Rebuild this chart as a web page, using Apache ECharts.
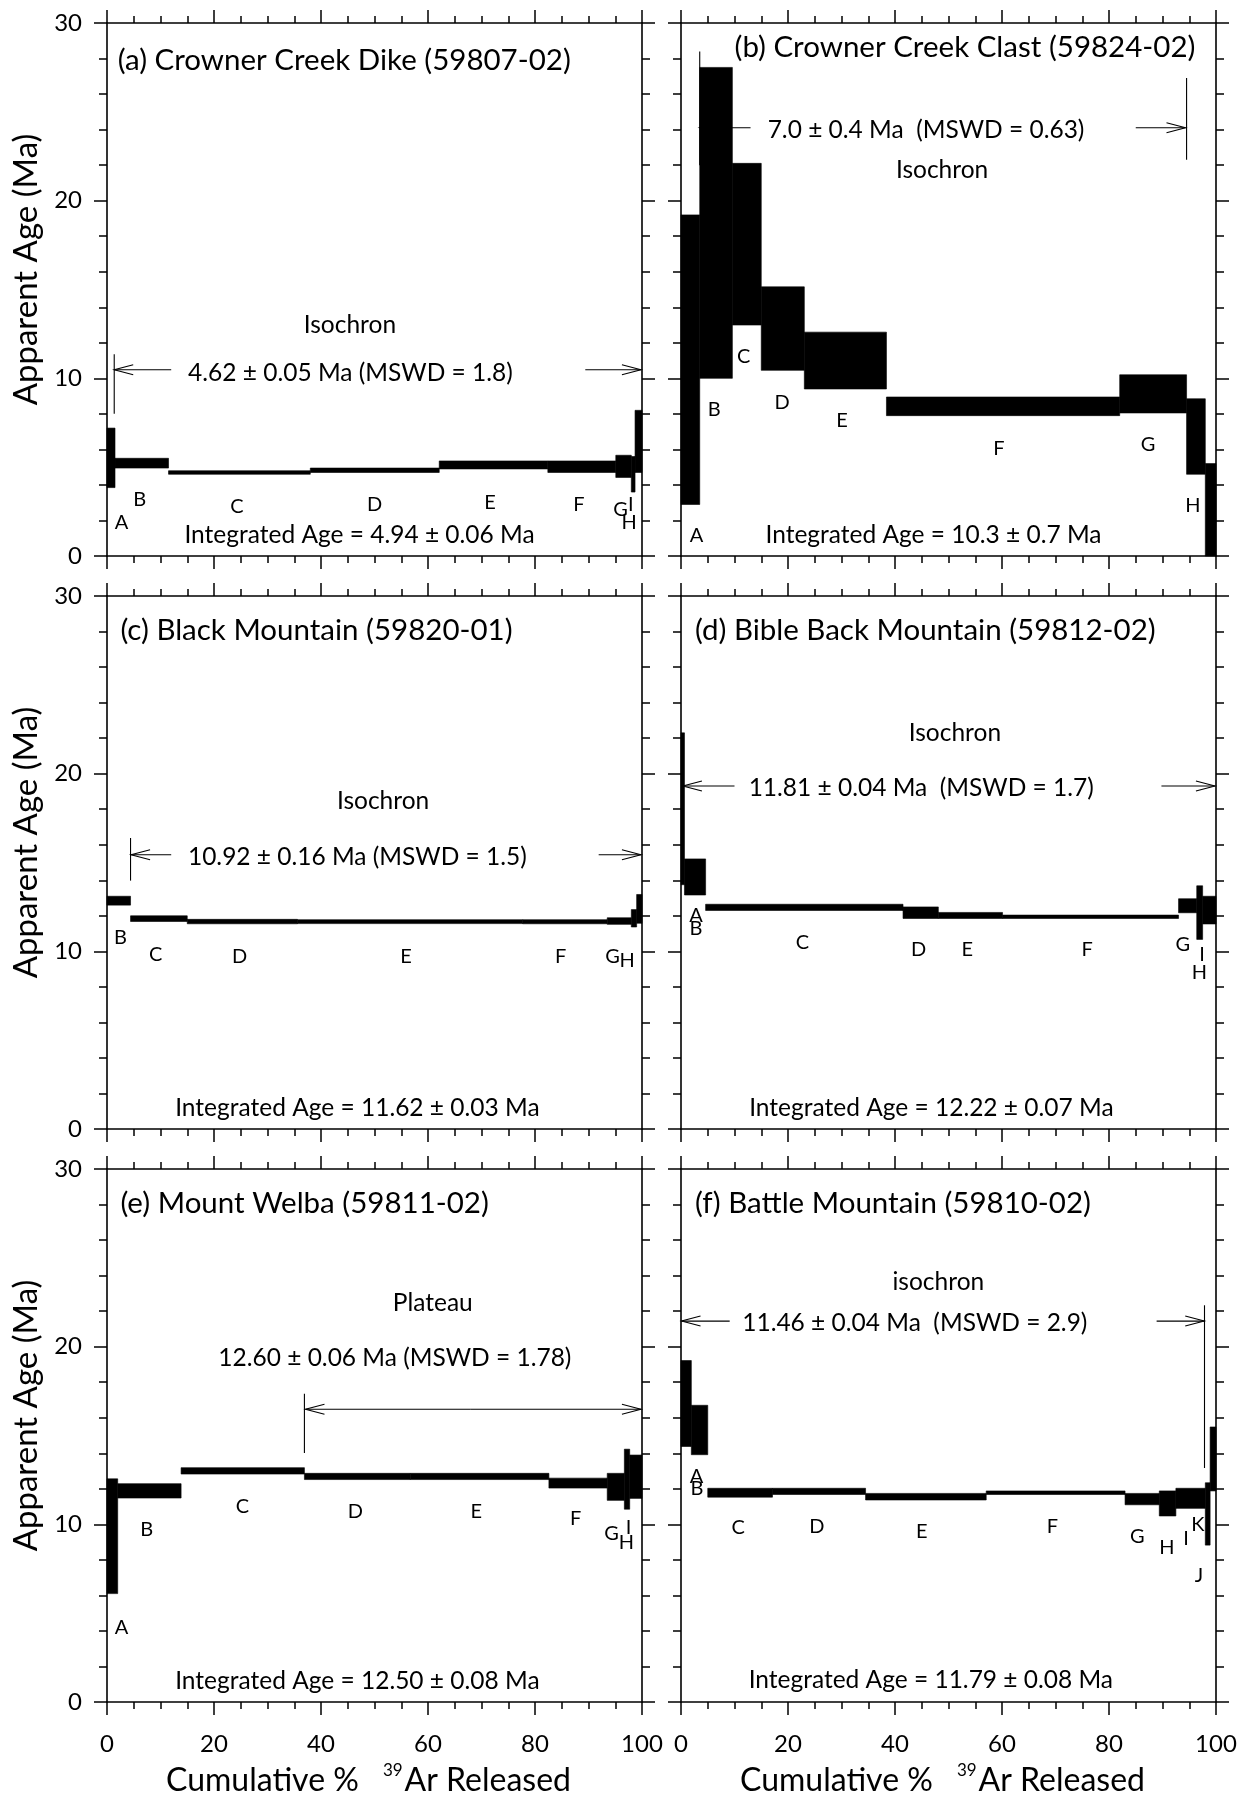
<!DOCTYPE html>
<html>
<head>
<meta charset="utf-8">
<script src="https://cdn.jsdelivr.net/npm/echarts@6/dist/echarts.min.js"></script>
<style>
  html, body { margin: 0; padding: 0; background: #fff; }
  #chart { width: 1239px; height: 1804px; }
</style>
</head>
<body>
<div id="chart"></div>
<script>
// ---------------------------------------------------------------------------
// 40Ar/39Ar step-heating age spectra.
// For each sample: cumulative % 39Ar boundaries of the steps, and the lower /
// upper bound of each step's apparent age (Ma).
// ---------------------------------------------------------------------------

// (a) Crowner Creek Dike (59807-02)
const edgesA = [0, 1.5, 11.5, 38.0, 62.1, 82.4, 95.1, 98.0, 98.7, 100];
const lowA   = [3.85, 4.95, 4.6, 4.7, 4.9, 4.7, 4.42, 3.6, 4.7];
const highA  = [7.2, 5.5, 4.8, 4.95, 5.35, 5.35, 5.67, 5.6, 8.2];

// (b) Crowner Creek Clast (59824-02)
const edgesB = [0, 3.5, 9.6, 15.0, 23.05, 38.4, 82.0, 94.5, 98.0, 100];
const lowB   = [2.9, 10.0, 13.0, 10.45, 9.4, 7.9, 8.05, 4.6, 0];
const highB  = [19.2, 27.5, 22.1, 15.15, 12.6, 8.95, 10.2, 8.85, 5.2];

// (c) Black Mountain (59820-01)
const edgesC = [0, 4.4, 15.0, 35.6, 77.7, 93.5, 98.0, 99.0, 100];
const lowC   = [12.6, 11.68, 11.55, 11.56, 11.55, 11.52, 11.37, 11.58];
const highC  = [13.1, 12.0, 11.8, 11.78, 11.78, 11.89, 12.35, 13.2];

// (d) Bible Back Mountain (59812-02)
const edgesD = [0, 0.65, 4.6, 41.5, 48.1, 60.1, 93.0, 96.4, 97.5, 100];
const lowD   = [13.75, 13.17, 12.3, 11.85, 11.85, 11.85, 12.17, 10.67, 11.54];
const highD  = [22.3, 15.2, 12.65, 12.5, 12.19, 12.04, 12.96, 13.69, 13.1];

// (e) Mount Welba (59811-02)
const edgesE = [0, 2.0, 13.85, 36.9, 56.7, 82.6, 93.5, 96.7, 97.7, 100];
const lowE   = [6.1, 11.48, 12.83, 12.52, 12.52, 12.04, 11.35, 10.85, 11.46];
const highE  = [12.56, 12.29, 13.19, 12.87, 12.87, 12.6, 12.87, 14.23, 13.9];

// (f) Battle Mountain (59810-02)
const edgesF = [0, 1.93, 5.0, 17.1, 34.5, 57.05, 83.0, 89.4, 92.5, 98.0, 98.9, 100];
const lowF   = [14.38, 13.92, 11.53, 11.68, 11.37, 11.68, 11.1, 10.47, 10.9, 8.83, 11.88];
const highF  = [19.22, 16.7, 12.03, 12.03, 11.74, 11.88, 11.74, 11.88, 12.03, 12.34, 15.48];

// Axis ticks
const xTicks = [0, 20, 40, 60, 80, 100];
const yTicks = [0, 10, 20, 30];

// ---------------------------------------------------------------------------
// Annotations (text, age-range arrows) placed in data coordinates.
// ---------------------------------------------------------------------------
const panels = [
  {
    edges: edgesA, low: lowA, high: highA,
    letters: [['A', 2.7, 1.9], ['B', 6.1, 3.2], ['C', 24.3, 2.8], ['D', 50, 2.9], ['E', 71.6, 3.0],
              ['F', 88.2, 2.9], ['G', 96.0, 2.6], ['I', 97.9, 2.9], ['H', 97.6, 1.9]],
    title: ['(a) Crowner Creek Dike (59807-02)', 2.0, 27.9],
    notes: [['Isochron', 45.4, 13.0], ['4.62 \u00b1 0.05 Ma (MSWD = 1.8)', 45.5, 10.27],
            ['Integrated Age = 4.94 \u00b1 0.06 Ma', 47.2, 1.15]],
    arrows: [[12.0, 1.35, 10.48], [89.4, 99.8, 10.48]],
    bars: [[1.35, 11.35, 8.0]]
  },
  {
    edges: edgesB, low: lowB, high: highB,
    letters: [['A', 2.9, 1.15], ['B', 6.2, 8.24], ['C', 11.7, 11.2], ['D', 18.9, 8.66], ['E', 30.1, 7.6],
              ['F', 59.4, 6.05], ['G', 87.3, 6.26], ['H', 95.7, 2.82]],
    title: ['(b) Crowner Creek Clast (59824-02)', 10.0, 28.6],
    notes: [['7.0 \u00b1 0.4 Ma  (MSWD = 0.63)', 45.8, 24.0], ['Isochron', 48.8, 21.74],
            ['Integrated Age = 10.3 \u00b1 0.7 Ma', 47.2, 1.15]],
    arrows: [[13.0, 3.5, 24.1], [85.0, 94.3, 24.1]],
    bars: [[3.5, 28.4, 22], [94.5, 26.9, 22.3]]
  },
  {
    edges: edgesC, low: lowC, high: highC,
    letters: [['B', 2.5, 10.75], ['C', 9.1, 9.8], ['D', 24.8, 9.7], ['E', 55.9, 9.7], ['F', 84.8, 9.7],
              ['G', 94.5, 9.7], ['H', 97.2, 9.5]],
    title: ['(c) Black Mountain (59820-01)', 2.5, 28.06],
    notes: [['Isochron', 51.6, 18.46], ['10.92 \u00b1 0.16 Ma (MSWD = 1.5)', 46.8, 15.33],
            ['Integrated Age = 11.62 \u00b1 0.03 Ma', 46.8, 1.15]],
    arrows: [[12.0, 4.5, 15.44], [91.9, 99.8, 15.44]],
    bars: [[4.4, 16.38, 13.98]]
  },
  {
    edges: edgesD, low: lowD, high: highD,
    letters: [['A', 2.8, 12.0], ['B', 2.8, 11.3], ['C', 22.7, 10.5], ['D', 44.4, 10.1], ['E', 53.5, 10.1],
              ['F', 75.9, 10.1], ['G', 93.8, 10.4], ['I', 97.4, 9.8], ['H', 96.9, 8.8]],
    title: ['(d) Bible Back Mountain (59812-02)', 2.6, 28.06],
    notes: [['Isochron', 51.2, 22.29], ['11.81 \u00b1 0.04 Ma  (MSWD = 1.7)', 44.9, 19.17],
            ['Integrated Age = 12.22 \u00b1 0.07 Ma', 46.8, 1.19]],
    arrows: [[10.0, 0.36, 19.31], [89.8, 99.8, 19.31]],
    bars: []
  },
  {
    edges: edgesE, low: lowE, high: highE,
    letters: [['A', 2.7, 4.2], ['B', 7.4, 9.7], ['C', 25.3, 11.0], ['D', 46.4, 10.7], ['E', 69.0, 10.7],
              ['F', 87.6, 10.3], ['G', 94.3, 9.5], ['I', 97.5, 9.8], ['H', 97.1, 9.0]],
    title: ['(e) Mount Welba (59811-02)', 2.5, 28.08],
    notes: [['Plateau', 60.9, 22.46], ['12.60 \u00b1 0.06 Ma (MSWD = 1.78)', 53.8, 19.33],
            ['Integrated Age = 12.50 \u00b1 0.08 Ma', 46.8, 1.17]],
    arrows: [[68.0, 37.1, 16.48], [68.0, 99.8, 16.48]],
    bars: [[36.9, 17.35, 14.02]]
  },
  {
    edges: edgesF, low: lowF, high: highF,
    letters: [['A', 2.9, 12.7], ['B', 3.0, 12.0], ['C', 10.7, 9.8], ['D', 25.4, 9.9], ['E', 45.0, 9.6],
              ['F', 69.4, 9.9], ['G', 85.3, 9.3], ['H', 90.8, 8.7], ['I', 94.4, 9.2], ['K', 96.6, 10.0],
              ['J', 96.8, 7.1]],
    title: ['(f) Battle Mountain (59810-02)', 2.6, 28.05],
    notes: [['isochron', 48.1, 23.62], ['11.46 \u00b1 0.04 Ma  (MSWD = 2.9)', 43.7, 21.34],
            ['Integrated Age = 11.79 \u00b1 0.08 Ma', 46.7, 1.25]],
    arrows: [[9.1, 0.1, 21.44], [88.9, 97.8, 21.44]],
    bars: [[97.85, 22.33, 13.17]]
  }
];

// ---------------------------------------------------------------------------
// Layout
// ---------------------------------------------------------------------------
const FONT = 'Lato';
const colLeft = [107, 681];
const rowTop = [23, 596, 1169];
const GW = 535, GH = 533;

const grids = [], xAxes = [], yAxes = [], series = [];

function xAxisCfg(gi, position, showLabels) {
  return {
    type: 'value', gridIndex: gi, position: position, min: 0, max: 100, interval: 20,
    axisLine: { show: true, onZero: false, lineStyle: { color: '#000', width: 1.6 } },
    axisTick: { show: true, inside: false, length: 13, lineStyle: { color: '#000', width: 1.5 } },
    minorTick: { show: true, splitNumber: 4, length: 7, lineStyle: { color: '#000', width: 1.5 } },
    axisLabel: {
      show: showLabels, margin: 30, color: '#000', fontFamily: FONT, fontSize: 24,
      formatter: v => (xTicks.indexOf(v) >= 0 ? String(v) : '')
    },
    splitLine: { show: false }, minorSplitLine: { show: false }
  };
}

function yAxisCfg(gi, position, showLabels) {
  return {
    type: 'value', gridIndex: gi, position: position, min: 0, max: 30, interval: 10,
    axisLine: { show: true, onZero: false, lineStyle: { color: '#000', width: 1.6 } },
    axisTick: { show: true, inside: false, length: 13, lineStyle: { color: '#000', width: 1.5 } },
    minorTick: { show: true, splitNumber: 5, length: 8, lineStyle: { color: '#000', width: 1.5 } },
    axisLabel: {
      show: showLabels, margin: 25, color: '#000', fontFamily: FONT, fontSize: 24,
      formatter: v => (yTicks.indexOf(v) >= 0 ? String(v) : '')
    },
    splitLine: { show: false }, minorSplitLine: { show: false }
  };
}

panels.forEach((p, i) => {
  const row = Math.floor(i / 2), col = i % 2;
  grids.push({ left: colLeft[col], top: rowTop[row], width: GW, height: GH, outerBoundsMode: 'none' });
  xAxes.push(xAxisCfg(i, 'bottom', row === 2));
  xAxes.push(xAxisCfg(i, 'top', false));
  yAxes.push(yAxisCfg(i, 'left', col === 0));
  yAxes.push(yAxisCfg(i, 'right', false));
  const xi = 2 * i, yi = 2 * i;

  // Age-range arrows and their end markers (drawn beneath the steps)
  series.push({
    type: 'custom', xAxisIndex: xi, yAxisIndex: yi, z: 1, silent: true,
    data: p.arrows, encode: { x: [0, 1], y: 2 },
    renderItem: (params, api) => {
      const a = api.coord([api.value(0), api.value(2)]);
      const b = api.coord([api.value(1), api.value(2)]);
      const d = b[0] > a[0] ? 1 : -1;
      const st = { stroke: '#000', lineWidth: 1.1, fill: null };
      return {
        type: 'group', children: [
          { type: 'line', shape: { x1: a[0], y1: a[1], x2: b[0], y2: b[1] }, style: st },
          { type: 'polyline', shape: { points: [[b[0] - d * 19, b[1] - 5], [b[0], b[1]], [b[0] - d * 19, b[1] + 5]] }, style: st }
        ]
      };
    }
  });
  series.push({
    type: 'custom', xAxisIndex: xi, yAxisIndex: yi, z: 1, silent: true,
    data: p.bars, encode: { x: 0, y: [1, 2] },
    renderItem: (params, api) => {
      const a = api.coord([api.value(0), api.value(1)]);
      const b = api.coord([api.value(0), api.value(2)]);
      return { type: 'line', shape: { x1: a[0], y1: a[1], x2: b[0], y2: b[1] }, style: { stroke: '#000', lineWidth: 1.1 } };
    }
  });

  // Age spectrum steps
  const steps = p.low.map((lo, k) => [p.edges[k], p.edges[k + 1], lo, p.high[k]]);
  series.push({
    type: 'custom', xAxisIndex: xi, yAxisIndex: yi, z: 3, silent: true,
    data: steps, encode: { x: [0, 1], y: [2, 3] },
    renderItem: (params, api) => {
      const p0 = api.coord([api.value(0), api.value(3)]);
      const p1 = api.coord([api.value(1), api.value(2)]);
      return {
        type: 'rect',
        shape: { x: p0[0], y: p0[1], width: p1[0] - p0[0], height: p1[1] - p0[1] },
        style: { fill: '#000', stroke: '#000', lineWidth: 0.6 }
      };
    }
  });

  // Step letters
  series.push({
    type: 'custom', xAxisIndex: xi, yAxisIndex: yi, z: 4, silent: true,
    data: p.letters.map(l => [l[1], l[2]]), encode: { x: 0, y: 1 },
    renderItem: (params, api) => {
      const c = api.coord([api.value(0), api.value(1)]);
      return {
        type: 'text', x: c[0], y: c[1],
        style: { text: p.letters[params.dataIndex][0], fill: '#000', fontFamily: FONT, fontSize: 20,
                 align: 'center', verticalAlign: 'middle' }
      };
    }
  });

  // Panel title and age notes
  const texts = [[p.title[0], p.title[1], p.title[2], 'left', 29.5]]
    .concat(p.notes.map(n => [n[0], n[1], n[2], 'center', 24.5]));
  series.push({
    type: 'custom', xAxisIndex: xi, yAxisIndex: yi, z: 4, silent: true,
    data: texts.map(t => [t[1], t[2]]), encode: { x: 0, y: 1 },
    renderItem: (params, api) => {
      const t = texts[params.dataIndex];
      const c = api.coord([api.value(0), api.value(1)]);
      return {
        type: 'text', x: c[0], y: c[1],
        style: { text: t[0], fill: '#000', fontFamily: FONT, fontSize: t[4], align: t[3], verticalAlign: 'middle' }
      };
    }
  });
});

// Shared axis titles
const graphics = [];
rowTop.forEach(t => {
  graphics.push({
    type: 'text', x: 26, y: t + GH / 2 - 20, rotation: Math.PI / 2,
    style: { text: 'Apparent Age (Ma)', fill: '#000', fontFamily: FONT, fontSize: 33,
             align: 'center', verticalAlign: 'middle' }
  });
});
colLeft.forEach(l => {
  graphics.push({
    type: 'text', x: l + GW / 2 - 6, y: 1781,
    style: {
      text: '{a|Cumulative %}{s|39}{a|Ar Released}',
      align: 'center', verticalAlign: 'middle',
      rich: {
        a: { fontFamily: FONT, fontSize: 32, fill: '#000', lineHeight: 38 },
        s: { fontFamily: FONT, fontSize: 17, fill: '#000', verticalAlign: 'top', lineHeight: 38,
             padding: [0, 2, 0, 24] }
      }
    }
  });
});

const chart = echarts.init(document.getElementById('chart'), null, { renderer: 'canvas' });
chart.setOption({
  animation: false,
  backgroundColor: '#fff',
  grid: grids,
  xAxis: xAxes,
  yAxis: yAxes,
  series: series,
  graphic: graphics
});
</script>
</body>
</html>
